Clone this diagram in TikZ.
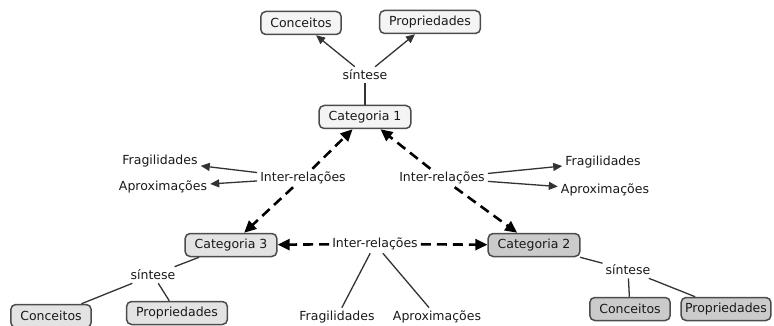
\documentclass[tikz,border=0pt]{standalone}
\usepackage{fontspec}
\setmainfont{DejaVu Sans}
\usetikzlibrary{arrows.meta}
\definecolor{fillA}{HTML}{F4F4F4}
\definecolor{fillB}{HTML}{E3E3E3}
\definecolor{fillC}{HTML}{CBCBCB}
\begin{document}
\begin{tikzpicture}[x=1pt,y=-1pt,
 every node/.style={font=\fontsize{12.5}{15}\selectfont, text=black!90},
 box/.style={draw=black!70, line width=1.5pt, rounded corners=5pt, inner xsep=9.5pt, inner ysep=3pt, minimum height=23pt},
 lbl/.style={inner sep=3pt},
 conn/.style={draw=black!80, line width=1.3pt},
 arr/.style={conn, -{Triangle[length=9pt,width=8pt]}},
 darr/.style={draw=black, line width=2.6pt, dash pattern=on 10pt off 6pt, -{Triangle[length=12pt,width=11pt]}},
]
\useasboundingbox (0,0) rectangle (774,326);
% boxes
\node[box, fill=fillA] (c1) at (365,117) {Categoria 1};
\node[box, fill=fillB] (c3) at (231,245) {Categoria 3};
\node[box, fill=fillC] (c2) at (534,245) {Categoria 2};
\node[box, fill=fillA] (tcon) at (301,23) {Conceitos};
\node[box, fill=fillA] (tprop) at (430,22) {Propriedades};
\node[box, fill=fillB] (lcon) at (51,316) {Conceitos};
\node[box, fill=fillB] (lprop) at (177,313) {Propriedades};
\node[box, fill=fillC] (rcon) at (630,309) {Conceitos};
\node[box, fill=fillC, inner xsep=4pt] (rprop) at (726,309) {Propriedades};
% labels
\node[lbl] (ts) at (365,75) {síntese};
\node[lbl] (lsin) at (153,275) {síntese};
\node[lbl] (rsin) at (628,270) {síntese};
\node[lbl] (lir) at (303,178) {Inter-relações};
\node[lbl] (rir) at (442,178) {Inter-relações};
\node[lbl] (bir) at (375,244) {Inter-relações};
\node[lbl] (lfrag) at (160,161) {Fragilidades};
\node[lbl] (lapr) at (163,187) {Aproximações};
\node[lbl] (rfrag) at (603,162) {Fragilidades};
\node[lbl] (rapr) at (605,190) {Aproximações};
\node[lbl] (bfrag) at (337,317) {Fragilidades};
\node[lbl] (bapr) at (437,317) {Aproximações};
% top
\draw[conn] (c1) -- (ts);
\draw[arr] (ts) -- (tcon);
\draw[arr] (ts) -- (tprop);
% left inter-relations
\draw[darr] (lir) -- (c1);
\draw[darr] (lir) -- (c3);
\draw[arr] (lir) -- (lfrag);
\draw[arr] (lir) -- (lapr);
% right inter-relations
\draw[darr] (rir) -- (c1);
\draw[darr] (rir) -- (c2);
\draw[arr] (rir) -- (rfrag);
\draw[arr] (rir) -- (rapr);
% bottom inter-relations
\draw[darr] (bir) -- (c3);
\draw[darr] (bir) -- (c2);
\draw[conn] (bir) -- (bfrag);
\draw[conn] (bir) -- (bapr);
% bottom left synthesis
\draw[conn] (c3) -- (lsin);
\draw[conn] (lsin) -- (lcon);
\draw[conn] (lsin) -- (lprop);
% bottom right synthesis
\draw[conn] (c2) -- (rsin);
\draw[conn] (rsin) -- (rcon);
\draw[conn] (rsin) -- (rprop);
\end{tikzpicture}
\end{document}
